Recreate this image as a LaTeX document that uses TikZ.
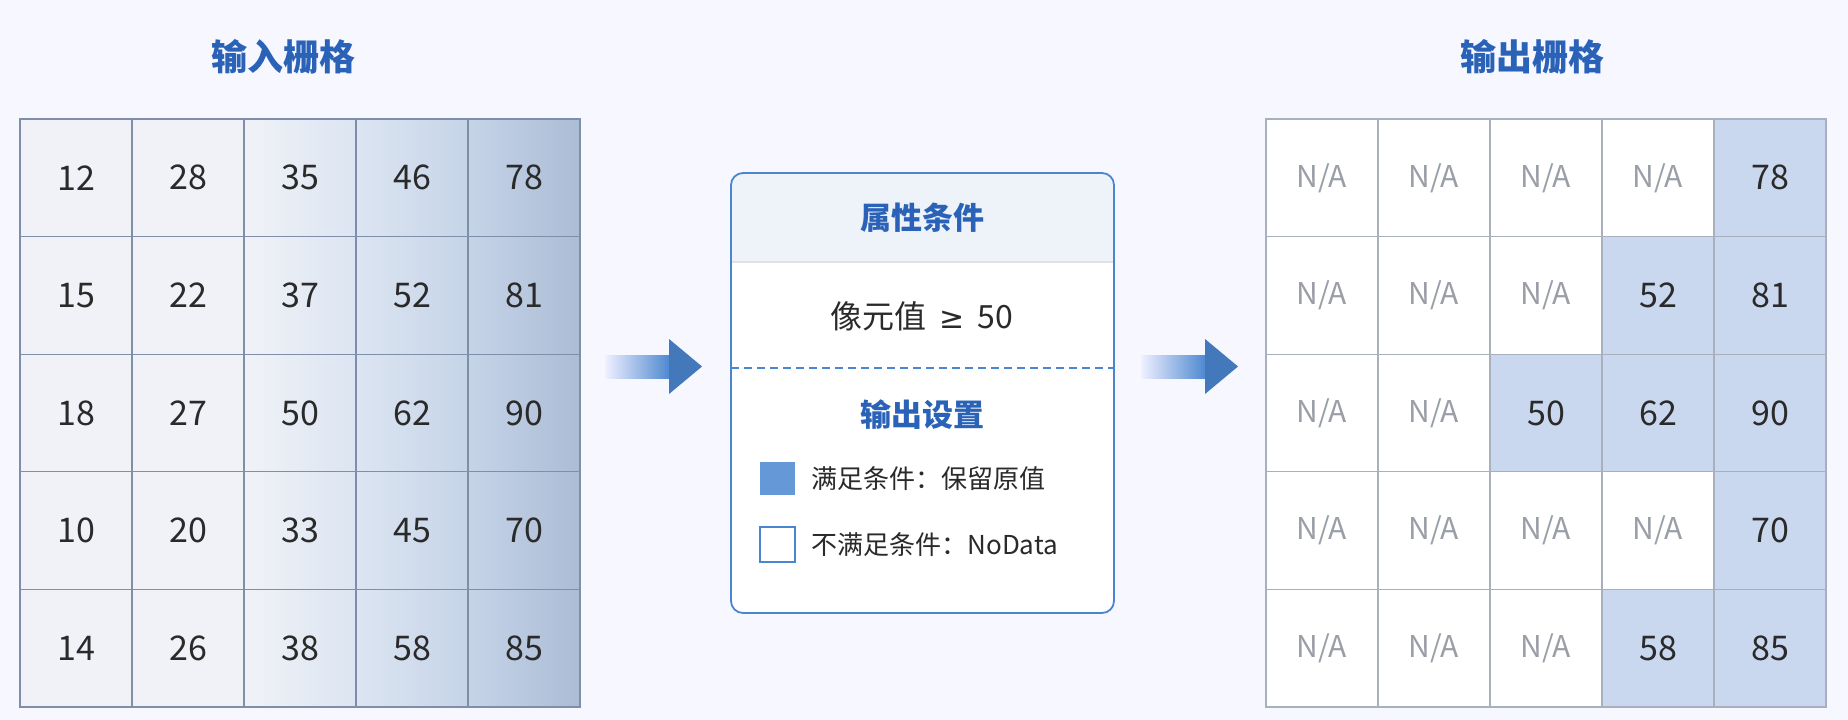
\documentclass[tikz,border=0pt]{standalone}
\usepackage{fontspec}
\setmainfont{Noto Sans CJK SC}
\newfontfamily\symfont{DejaVu Sans}
\usetikzlibrary{calc}
\definecolor{tblue}{HTML}{2A62B8}
\definecolor{bblue}{HTML}{4A86D0}
\definecolor{gline}{HTML}{7F8FAA}
\definecolor{oline}{HTML}{A8B0BE}
\definecolor{hil}{HTML}{C9D8EE}
\definecolor{nagray}{HTML}{9A9EA6}
\definecolor{txt}{HTML}{2A2A2A}
\definecolor{cA}{HTML}{F0F2F7}
\definecolor{cB}{HTML}{DCE5F2}
\definecolor{cC}{HTML}{C6D4E8}
\definecolor{cD}{HTML}{ABBCD5}
\definecolor{hdr}{HTML}{EEF2F9}
\tikzset{
  ttl/.style={font=\fontsize{36}{40}\selectfont\bfseries, text=tblue},
  num/.style={font=\fontsize{34}{38}\selectfont, text=txt},
  na/.style={font=\fontsize{30}{34}\selectfont, text=nagray},
  legtxt/.style={font=\fontsize{26}{30}\selectfont, text=txt, anchor=west},
}
\begin{document}
\begin{tikzpicture}[x=1pt,y=-1pt]
\fill[white!97!blue] (0,0) rectangle (1848,720);
% ---- titles
\node[ttl] (t1) at (283,57) {输入栅格};
\node[ttl] (t2) at (1532,57) {输出栅格};
% ---- input grid
\def\gx{20}\def\gy{119}\def\cw{112}\def\ch{117.6}
\fill[cA] (\gx,\gy) rectangle ++(224,588);
\shade[left color=cA, right color=cB] (244,\gy) rectangle ++(112,588);
\shade[left color=cB, right color=cC] (356,\gy) rectangle ++(112,588);
\shade[left color=cC, right color=cD] (468,\gy) rectangle ++(112,588);
\foreach \r/\vals in {0/{12,28,35,46,78},1/{15,22,37,52,81},2/{18,27,50,62,90},3/{10,20,33,45,70},4/{14,26,38,58,85}}{
  \foreach \v [count=\c from 0] in \vals {
    \draw[gline, line width=1.2pt] ({\gx+\c*\cw},{\gy+\r*\ch}) rectangle ++(\cw,\ch);
    \node[num] (in-\r-\c) at ({\gx+\c*\cw+\cw/2},{\gy+\r*\ch+\ch/2}) {\v};
  }
}
% ---- output grid
\def\ox{1266}
\foreach \r/\vals in {0/{0,0,0,0,78},1/{0,0,0,52,81},2/{0,0,50,62,90},3/{0,0,0,0,70},4/{0,0,0,58,85}}{
  \foreach \v [count=\c from 0] in \vals {
    \ifnum\v=0
      \draw[oline, line width=1.2pt, fill=white] ({\ox+\c*\cw},{\gy+\r*\ch}) rectangle ++(\cw,\ch);
      \node[na] (out-\r-\c) at ({\ox+\c*\cw+\cw/2},{\gy+\r*\ch+\ch/2}) {N/A};
    \else
      \draw[oline, line width=1.2pt, fill=hil] ({\ox+\c*\cw},{\gy+\r*\ch}) rectangle ++(\cw,\ch);
      \node[num] (out-\r-\c) at ({\ox+\c*\cw+\cw/2},{\gy+\r*\ch+\ch/2}) {\v};
    \fi
  }
}
% ---- middle box
\fill[white, rounded corners=12pt] (731,173) rectangle (1114,613);
\begin{scope}
\clip[rounded corners=12pt] (731,173) rectangle (1114,613);
\fill[hdr] (731,173) rectangle (1114,262);
\end{scope}
\draw[blue!30!black!12!white, line width=1.2pt] (731,262) -- (1114,262);
\draw[bblue, line width=1.2pt, dash pattern=on 8pt off 5pt] (731,368) -- (1114,368);
\draw[bblue, line width=1.8pt, rounded corners=12pt] (731,173) rectangle (1114,613);
\node[ttl, font=\fontsize{31}{35}\selectfont\bfseries] (h1) at (922,218) {属性条件};
\node[font=\fontsize{32}{36}\selectfont, text=txt] (cond) at (922,316) {像元值\hspace{0.4em}{\symfont\fontsize{30}{34}\selectfont ≥}\hspace{0.4em}50};
\node[ttl, font=\fontsize{31}{35}\selectfont\bfseries] (h2) at (922,415) {输出设置};
\fill[bblue!85!white] (760,462) rectangle (795,495);
\node[legtxt] (l1) at (808,479) {满足条件：保留原值};
\draw[bblue, line width=1.3pt, fill=white] (760,527) rectangle (795,562);
\node[legtxt] (l2) at (808,545) {不满足条件：NoData};
% ---- arrows
\foreach \ax/\nm in {605/a1,1141/a2}{
  \shade[left color=blue!6!white, right color=bblue] (\ax,355) rectangle ++(66,23);
  \fill[bblue!90!black] ({\ax+64},339) -- ({\ax+97},366.5) -- ({\ax+64},394) -- cycle;
  \coordinate (\nm) at ({\ax+97},366.5);
}
\end{tikzpicture}
\end{document}
